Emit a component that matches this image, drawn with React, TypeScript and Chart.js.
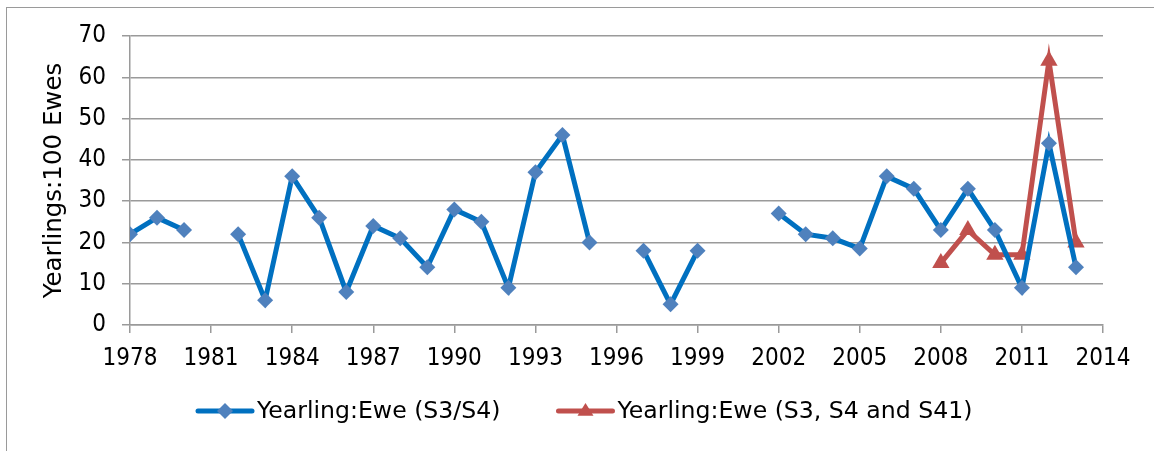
import React, { useEffect, useRef } from "react";
import { Chart, registerables } from "chart.js";

Chart.register(...registerables);

const years = [1978,1979,1980,1981,1982,1983,1984,1985,1986,1987,1988,1989,1990,1991,1992,1993,1994,1995,1996,1997,1998,1999,2000,2001,2002,2003,2004,2005,2006,2007,2008,2009,2010,2011,2012,2013];
const s3s4 = [22,26,23,null,22,6,36,26,8,24,21,14,28,25,9,37,46,20,null,18,5,18,null,null,27,22,21,18.5,36,33,23,33,23,9,44,14];
const s41Years = [2008,2009,2010,2011,2012,2013];
const s41 = [15,23,17,17,64,20];
const seriesNames = ["Yearling:Ewe (S3/S4)", "Yearling:Ewe (S3, S4 and S41)"];
const yTitle = "Yearlings:100 Ewes";

const NUM_FONT = "'DejaVu Sans Condensed', 'DejaVu Sans', sans-serif";
const TXT_FONT = "'DejaVu Sans', sans-serif";
const BLUE = "#0070C0";
const BLUE_M = "#4F81BD";
const RED = "#C0504D";
const GRID = "#9a9a9a";

const legendPlugin = {
  id: "customLegend",
  afterDraw(chart: any) {
    const ctx = chart.ctx;
    ctx.save();
    ctx.font = `23.6px ${TXT_FONT}`;
    ctx.textBaseline = "middle";
    const y = 411;
    const lineLen = 54;
    const gap = 5;
    const spacing = 58;
    let x = 198;
    chart.data.datasets.forEach((d: any) => {
      const w = ctx.measureText(d.label).width;
      ctx.strokeStyle = d.borderColor;
      ctx.lineWidth = 5;
      ctx.lineCap = "round";
      ctx.beginPath();
      ctx.moveTo(x, y);
      ctx.lineTo(x + lineLen, y);
      ctx.stroke();
      ctx.fillStyle = d.pointBackgroundColor;
      ctx.beginPath();
      const cx = x + lineLen / 2;
      const r = 8;
      if (d.pointStyle === "rectRot") {
        ctx.moveTo(cx, y - r);
        ctx.lineTo(cx + r, y);
        ctx.lineTo(cx, y + r);
        ctx.lineTo(cx - r, y);
      } else {
        ctx.moveTo(cx, y - r);
        ctx.lineTo(cx + r, y + r * 0.6);
        ctx.lineTo(cx - r, y + r * 0.6);
      }
      ctx.closePath();
      ctx.fill();
      ctx.fillStyle = "#000";
      ctx.fillText(d.label, x + lineLen + gap, y + 1);
      x += lineLen + gap + w + spacing;
    });
    ctx.restore();
  },
};

export default function App() {
  const ref = useRef<HTMLCanvasElement | null>(null);
  useEffect(() => {
    if (!ref.current) return;
    const chart = new Chart(ref.current, {
      type: "line",
      data: {
        datasets: [
          {
            label: seriesNames[0],
            data: years.map((yr, i) => ({ x: yr, y: s3s4[i] })) as any,
            borderColor: BLUE,
            backgroundColor: BLUE_M,
            pointBackgroundColor: BLUE_M,
            pointBorderColor: BLUE_M,
            borderWidth: 5,
            pointStyle: "rectRot",
            pointRadius: 8,
            pointBorderWidth: 0,
            spanGaps: false,
            tension: 0,
          },
          {
            label: seriesNames[1],
            data: s41Years.map((yr, i) => ({ x: yr, y: s41[i] })) as any,
            borderColor: RED,
            backgroundColor: RED,
            pointBackgroundColor: RED,
            pointBorderColor: RED,
            borderWidth: 5,
            pointStyle: "triangle",
            pointRadius: 10,
            pointBorderWidth: 0,
            tension: 0,
          },
        ],
      },
      options: {
        responsive: false,
        animation: false,
        layout: { padding: { left: 0, top: 36, right: 51, bottom: 76 } },
        plugins: {
          legend: { display: false },
          tooltip: { enabled: false },
        },
        scales: {
          x: {
            type: "linear",
            min: 1978,
            max: 2014,
            ticks: {
              stepSize: 3,
              color: "#000",
              font: { family: NUM_FONT, size: 24 },
              padding: 11,
              maxRotation: 0,
              autoSkip: false,
              callback: (v: any) => String(v),
            },
            grid: {
              drawOnChartArea: false,
              drawTicks: true,
              tickLength: 8,
              color: GRID,
              lineWidth: 1.5,
            },
            border: { color: GRID, width: 1.5 },
            afterFit: (s: any) => { s.height = 50; },
          },
          y: {
            min: 0,
            max: 70,
            ticks: {
              stepSize: 10,
              color: "#000",
              font: { family: NUM_FONT, size: 24 },
              padding: 16,
            },
            grid: {
              color: GRID,
              lineWidth: 1.5,
              tickLength: 8,
            },
            border: { color: GRID, width: 1.5 },
            title: {
              display: true,
              text: yTitle,
              color: "#000",
              font: { family: TXT_FONT, size: 24.5 },
              padding: { top: 40, bottom: 0 },
            },
            afterFit: (s: any) => { s.width = 130; },
          },
        },
      },
      plugins: [legendPlugin],
    });
    return () => chart.destroy();
  }, []);
  return (
    <div style={{ position: "absolute", left: 0, top: 0, width: 1154, height: 451, background: "#fff", overflow: "hidden" }}>
      <div style={{ position: "absolute", left: 6, top: 7, width: 1170, height: 470, border: "1px solid #9a9a9a" }} />
      <canvas ref={ref} width={1154} height={451} style={{ position: "absolute", left: 0, top: 0 }} />
    </div>
  );
}
